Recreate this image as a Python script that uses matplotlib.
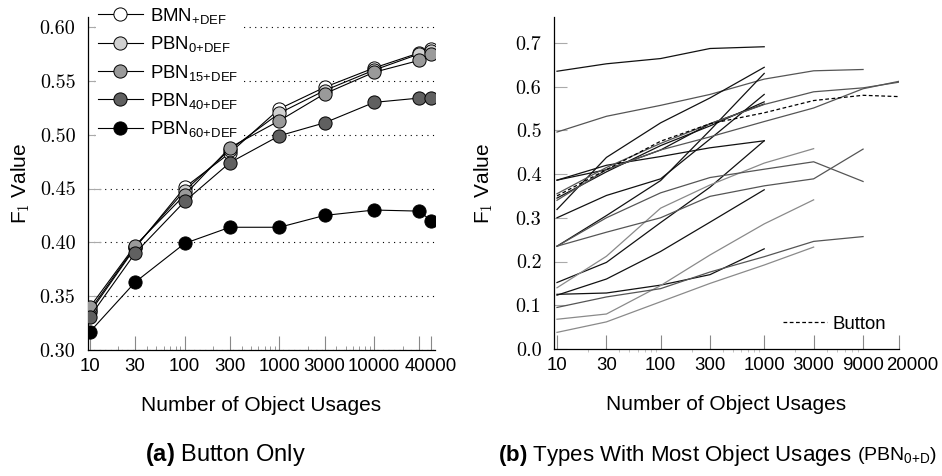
import os
import matplotlib
matplotlib.use("Agg")
import matplotlib.pyplot as plt
import matplotlib.font_manager as fm
from matplotlib.ticker import FormatStrFormatter, NullFormatter
from matplotlib.transforms import offset_copy

# Computer Modern ships with matplotlib, register it by path to be sure
cm_path = os.path.join(matplotlib.get_data_path(), 'fonts', 'ttf', 'cmr10.ttf')
if os.path.exists(cm_path):
    fm.fontManager.addfont(cm_path)
SERIF = ['cmr10', 'Liberation Serif']

plt.rcParams['font.family'] = ['Liberation Sans', 'DejaVu Sans']
plt.rcParams['mathtext.fontset'] = 'custom'
plt.rcParams['mathtext.rm'] = 'Liberation Sans'
plt.rcParams['mathtext.bf'] = 'Liberation Sans:bold'
plt.rcParams['mathtext.it'] = 'Liberation Sans:italic'
plt.rcParams['mathtext.cal'] = 'cmr10'

# (a) Button only
usages_a = [10, 30, 100, 300, 1000, 3000, 10000, 30000, 40000]
tick_labels_a = ['10', '30', '100', '300', '1000', '3000', '10000', '', '40000']
bmn = [0.335, 0.395, 0.451, 0.483, 0.524, 0.544, 0.562, 0.576, 0.580]
pbn0 = [0.337, 0.396, 0.448, 0.486, 0.520, 0.541, 0.560, 0.575, 0.578]
pbn15 = [0.340, 0.397, 0.444, 0.488, 0.513, 0.538, 0.558, 0.569, 0.575]
pbn40 = [0.331, 0.390, 0.438, 0.474, 0.499, 0.511, 0.530, 0.534, 0.534]
pbn60 = [0.317, 0.363, 0.399, 0.414, 0.414, 0.425, 0.430, 0.429, 0.420]

# (b) types with most object usages
usages_b = [10, 30, 100, 300, 1000, 3000, 9000, 20000]
tick_labels_b = ['10', '30', '100', '300', '1000', '3000', '9000', '20000']
types_b = [
    # (values, colour)
    ([0.635, 0.652, 0.664, 0.687, 0.691], '#111111'),
    ([0.496, 0.532, 0.557, 0.582, 0.617, 0.636, 0.639], '#555555'),
    ([0.386, 0.420, 0.440, 0.460, 0.476], '#111111'),
    ([0.386, 0.410, 0.455, 0.515, 0.560], '#111111'),
    ([0.319, 0.438, 0.517, 0.574, 0.644], '#111111'),
    ([0.345, 0.405, 0.465, 0.510, 0.565], '#111111'),
    ([0.235, 0.305, 0.385, 0.500, 0.630], '#111111'),
    ([0.300, 0.351, 0.389, 0.480, 0.582], '#111111'),
    ([0.340, 0.410, 0.455, 0.485, 0.520, 0.551, 0.595, 0.612], '#555555'),
    ([0.355, 0.415, 0.470, 0.515, 0.559, 0.588, 0.597, 0.610], '#555555'),
    ([0.152, 0.198, 0.289, 0.370, 0.476], '#111111'),
    ([0.123, 0.160, 0.223, 0.290, 0.364], '#111111'),
    ([0.125, 0.128, 0.146, 0.170, 0.229], '#111111'),
    ([0.140, 0.212, 0.322, 0.375, 0.425, 0.458], '#8a8a8a'),
    ([0.235, 0.300, 0.357, 0.392, 0.411, 0.428, 0.383], '#555555'),
    ([0.235, 0.267, 0.300, 0.349, 0.373, 0.389, 0.457], '#555555'),
    ([0.068, 0.080, 0.145, 0.215, 0.286, 0.341], '#8a8a8a'),
    ([0.038, 0.062, 0.108, 0.150, 0.192, 0.233], '#8a8a8a'),
    ([0.095, 0.119, 0.138, 0.176, 0.211, 0.246, 0.257], '#555555'),
]
button_b = [0.350, 0.410, 0.475, 0.515, 0.540, 0.568, 0.580, 0.577]

W, H = 942, 476
fig = plt.figure(figsize=(W / 100, H / 100), dpi=100)

ax1 = fig.add_axes([88 / W, 1 - 350 / H, (435 - 88) / W, (350 - 17) / H])
ax2 = fig.add_axes([554 / W, 1 - 349 / H, (899 - 554) / W, (349 - 17) / H])

series_a = [
    (bmn, 'white', r'BMN$_\text{+DEF}$'),
    (pbn0, '#d0d0d0', r'PBN$_\text{0+DEF}$'),
    (pbn15, '#9a9a9a', r'PBN$_\text{15+DEF}$'),
    (pbn40, '#606060', r'PBN$_\text{40+DEF}$'),
    (pbn60, 'black', r'PBN$_\text{60+DEF}$'),
]
for vals, fc, lab in series_a:
    ax1.plot(usages_a, vals, color='black', lw=0.8, marker='o', ms=9.5,
             mfc=fc, mec='black', mew=0.7, label=lab, zorder=3)

for vals, col in types_b:
    ax2.plot(usages_b[:len(vals)], vals, color=col, lw=0.9)
ax2.plot(usages_b, button_b, color='black', lw=0.9, ls=(0, (3, 2)), label='Button')

for ax in (ax1, ax2):
    ax.set_xscale('log')
    for s in ('top', 'right'):
        ax.spines[s].set_visible(False)
    for s in ('left', 'bottom'):
        ax.spines[s].set_linewidth(0.9)
    ax.xaxis.set_minor_formatter(NullFormatter())
    ax.set_xlabel('Number of Object Usages', fontsize=15, labelpad=15)
    ax.tick_params(axis='x', which='major', direction='in', length=10,
                   color='#888888', labelsize=13.4, pad=6)
    ax.tick_params(axis='y', which='major', direction='in', length=9,
                   color='#aaaaaa', labelsize=14.5, pad=9)

ax1.set_xticks(usages_a)
ax1.set_xticklabels(tick_labels_a)
ax1.set_xlim(9.53, 43950)
ax1.set_ylim(0.30, 0.6093)
ax1.set_yticks([0.30, 0.35, 0.40, 0.45, 0.50, 0.55, 0.60])
ax1.yaxis.set_major_formatter(FormatStrFormatter('%.2f'))
ax1.tick_params(axis='x', which='minor', direction='in', length=3, color='#888888')
ax1.grid(axis='y', color='black', lw=0.8, ls=(0, (1, 4)))
ax1.set_axisbelow(True)

ax2.set_xticks(usages_b)
ax2.set_xticklabels(tick_labels_b)
ax2.set_xlim(9.355, 20000)
ax2.set_ylim(0, 0.759)
ax2.set_yticks([0.0, 0.1, 0.2, 0.3, 0.4, 0.5, 0.6, 0.7])
ax2.yaxis.set_major_formatter(FormatStrFormatter('%.1f'))
ax2.tick_params(axis='x', which='minor', direction='out', length=2, color='#bbbbbb')

for ax in (ax1, ax2):
    for t in ax.get_yticklabels():
        t.set_fontfamily(SERIF)

# the last label on the right sits a little past its tick, as in the original
last = ax2.get_xticklabels()[-1]
last.set_transform(offset_copy(last.get_transform(), fig=fig, x=13, units='dots'))

ax1.set_ylabel(r'F$_\mathcal{1}$ Value', fontsize=15)
ax2.set_ylabel(r'F$_\mathcal{1}$ Value', fontsize=15)
ax1.yaxis.set_label_coords(-56 / (435 - 88), 0.5)
ax2.yaxis.set_label_coords(-59 / (899 - 554), 0.5)

leg1 = ax1.legend(loc='upper left', bbox_to_anchor=(96 / W, 1 - 4 / H), bbox_transform=fig.transFigure,
                  fontsize=13.4, frameon=True, fancybox=False, edgecolor='none', framealpha=1,
                  handlelength=2.4, handletextpad=0.42, labelspacing=0.45, borderpad=0.1,
                  borderaxespad=0, numpoints=1)
leg1.set_zorder(5)

ax2.legend(loc='lower right', bbox_to_anchor=(894 / W, 1 - 340 / H), bbox_transform=fig.transFigure,
           fontsize=13.4, frameon=False, handlelength=2.4, handletextpad=0.3, borderaxespad=0)

fig.text(225 / W, 1 - 455 / H, r'$\mathbf{(a)}$ Button Only', ha='center', va='center', fontsize=17)

# caption (b): main part plus a smaller bracket, centred together
renderer = fig.canvas.get_renderer()
cap_b1 = fig.text(0, 1 - 455 / H, r'$\mathbf{(b)}$ Types With Most Object Usages', ha='left',
                  va='center', fontsize=16)
cap_b2 = fig.text(0, 1 - 455 / H, r'(PBN$_\text{0+D}$)', ha='left', va='center', fontsize=14)
gap = 5
w1 = cap_b1.get_window_extent(renderer).width
w2 = cap_b2.get_window_extent(renderer).width
x0 = 717.5 - (w1 + gap + w2) / 2
cap_b1.set_x(x0 / W)
cap_b2.set_x((x0 + w1 + gap) / W)

fig.savefig('out.png', dpi=100)
